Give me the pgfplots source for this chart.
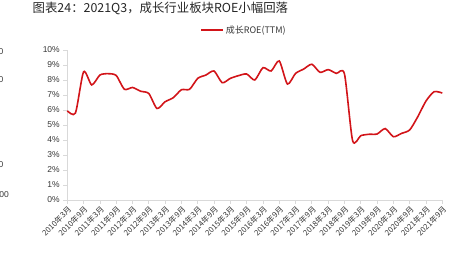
\documentclass[border=0pt]{standalone}
\usepackage{fontspec}
\setmainfont{Liberation Sans}
\newfontfamily\cjk{Noto Sans CJK SC}
\usepackage{pgfplots}
\pgfplotsset{compat=1.18}
\definecolor{linered}{RGB}{210,20,25}
\definecolor{axgray}{RGB}{217,217,217}
\definecolor{txt}{RGB}{55,55,55}
\begin{document}
\begin{tikzpicture}
\useasboundingbox (0,0) rectangle (461pt,253pt);
\node[anchor=base west, inner sep=0pt, font=\cjk\fontsize{12.4}{14}\selectfont, text=black!85] at (32.5pt,240.5pt) {图表24：2021Q3，成长行业板块ROE小幅回落};
% partial labels cut at left edge in the reference
\node[anchor=east, inner sep=0pt, font=\fontsize{8.5}{10}\selectfont, text=txt] at (3.5pt,201.5pt) {0};
\node[anchor=east, inner sep=0pt, font=\fontsize{8.5}{10}\selectfont, text=txt] at (3.5pt,173.5pt) {0};
\node[anchor=east, inner sep=0pt, font=\fontsize{8.5}{10}\selectfont, text=txt] at (3.5pt,88pt) {0};
\node[anchor=east, inner sep=0pt, font=\fontsize{8.5}{10}\selectfont, text=txt] at (9pt,58pt) {00};
\begin{axis}[
  scale only axis,
  width=375pt, height=150pt,
  at={(67.3pt,53pt)}, anchor=south west,
  xmin=0, xmax=46, ymin=0, ymax=10,
  axis x line*=bottom, axis y line*=left,
  axis line style={-, draw=axgray, line width=0.8pt},
  tick style={draw=axgray, line width=0.8pt},
  tick align=outside, major tick length=4pt,
  xtick={0,2,...,46},
  xticklabels={{2010年3月},{2010年9月},{2011年3月},{2011年9月},{2012年3月},{2012年9月},{2013年3月},{2013年9月},{2014年3月},{2014年9月},{2015年3月},{2015年9月},{2016年3月},{2016年9月},{2017年3月},{2017年9月},{2018年3月},{2018年9月},{2019年3月},{2019年9月},{2020年3月},{2020年9月},{2021年3月},{2021年9月}},
  xticklabel style={font=\cjk\fontsize{7.8}{8}\selectfont, text=txt, rotate=45, anchor=north east, inner sep=1pt},
  ytick={0,1,...,10},
  yticklabel={\pgfmathprintnumber{\tick}\%},
  yticklabel style={font=\fontsize{8.5}{10}\selectfont, text=txt},
  /pgf/number format/assume math mode=true,
  legend style={draw=none, fill=none, at={(0.354,1.133)}, anchor=west, inner sep=0pt,
    font=\cjk\fontsize{9}{10}\selectfont, text=txt},
  legend image code/.code={\draw[#1] (0pt,0pt) -- (22pt,0pt);},
  clip=false,
]
\addplot[linered, line width=1.6pt, smooth, tension=0.42] coordinates {
(0,5.95) (1,5.8) (2,8.55) (3,7.67) (4,8.33) (5,8.42) (6,8.3) (7,7.38) (8,7.5) (9,7.25)
(10,7.1) (11,6.1) (12,6.55) (13,6.82) (14,7.35) (15,7.38) (16,8.11) (17,8.33) (18,8.6) (19,7.82)
(20,8.11) (21,8.29) (22,8.4) (23,8.0) (24,8.82) (25,8.6) (26,9.27) (27,7.73) (28,8.44) (29,8.73)
(30,9.05) (31,8.51) (32,8.69) (33,8.44) (34,8.4) (35,3.95) (36,4.29) (37,4.38) (38,4.4) (39,4.76)
(40,4.22) (41,4.44) (42,4.67) (43,5.56) (44,6.6) (45,7.22) (46,7.13)
};
\addlegendentry{成长ROE(TTM)}
\end{axis}
\end{tikzpicture}
\end{document}
